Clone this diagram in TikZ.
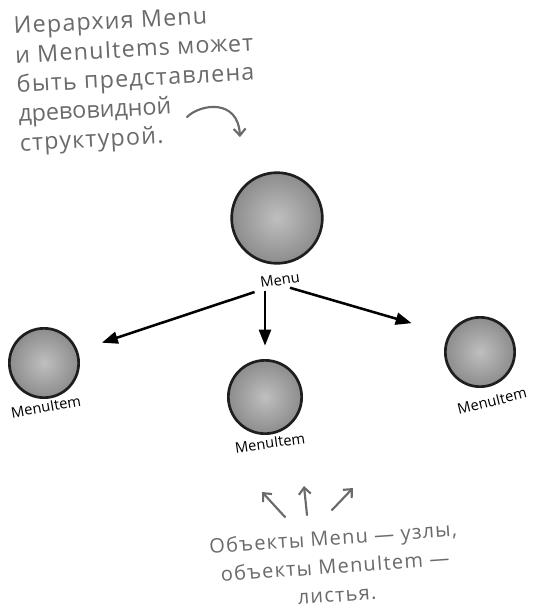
\documentclass[tikz,border=0pt]{standalone}
\usepackage{fontspec}
\setmainfont{Open Sans}
\usetikzlibrary{arrows.meta,positioning}
\definecolor{NoteGray}{HTML}{6A6A6A}
\definecolor{BallEdge}{HTML}{1E1E1E}
\tikzset{
  ball/.style={circle,draw=BallEdge,line width=2pt,inner color=gray!50,outer color=gray!90,minimum size=#1},
  balllbl/.style={font=\fontsize{11}{12}\selectfont,inner sep=1pt},
  tree/.style={-{Triangle[length=12pt,width=9pt]},line width=1.9pt},
  note/.style={text=NoteGray,font=\fontsize{15}{21.5}\selectfont\addfontfeatures{LetterSpace=6}},
  notearrow/.style={NoteGray,line width=1.6pt,-{Straight Barb[length=5pt,width=9pt]},line cap=round},
}
\begin{document}
\begin{tikzpicture}[x=0.75pt,y=-0.75pt]
  \useasboundingbox (0,0) rectangle (542,612);
  % notes
  \node[note,font=\fontsize{17.5}{22}\selectfont\addfontfeatures{LetterSpace=5},anchor=north west,align=left,rotate=3,inner sep=0pt] (topnote) at (13,17) {Иерархия Menu\\и MenuItems может\\быть представлена\\{\addfontfeatures{LetterSpace=0}древовидной}\\структурой.};
  \draw[notearrow] (187,117) .. controls (200,104) and (238,98) .. (240,137);

  % tree
  \node[ball=68pt] (menu) at (277,218) {};
  \node[balllbl,rotate=8] (menulbl) at (280,280) {Menu};
  \node[ball=52pt] (left) at (44,363) {};
  \node[balllbl,rotate=10] (leftlbl) at (46,407) {MenuItem};
  \node[ball=55pt] (mid) at (265,397) {};
  \node[balllbl,rotate=8] (midlbl) at (270,443) {MenuItem};
  \node[ball=52pt] (right) at (480,352) {};
  \node[balllbl,rotate=14] (rightlbl) at (492,401) {MenuItem};

  \draw[tree,shorten <=6pt,shorten >=19pt] (menulbl.200) -- (left.20);
  \draw[tree,shorten <=3pt,shorten >=10pt] (mid.north |- menulbl.south) -- (mid.north);
  \draw[tree,shorten <=4pt,shorten >=29pt] (menulbl.300) -- (right.150);

  % leaves note
  \node[note,align=center,rotate=4] (botnote) at (335,566) {Объекты Menu — узлы,\\объекты MenuItem —\\листья.};
  \draw[notearrow] (285,517) -- (262,492);
  \draw[notearrow] (307,515) -- (304,486);
  \draw[notearrow] (332,510) -- (353,488);
\end{tikzpicture}
\end{document}
